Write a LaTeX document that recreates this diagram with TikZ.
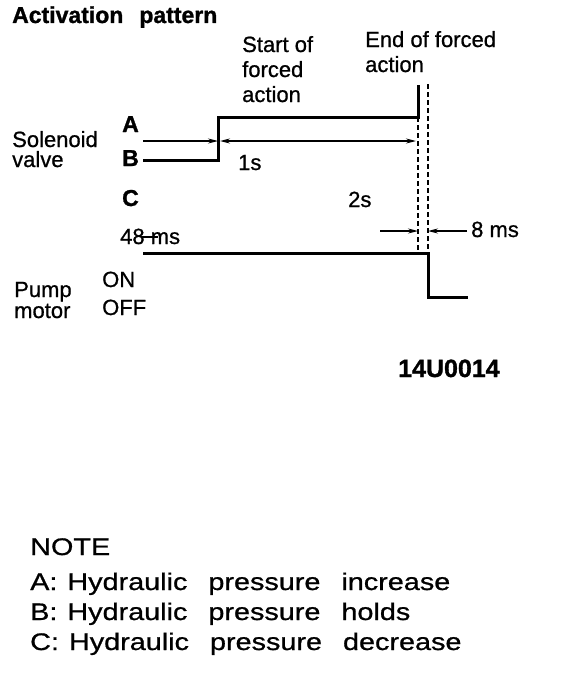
\documentclass[tikz,border=0pt]{standalone}
\usepackage{fontspec}
\setmainfont{Liberation Sans}
\newfontfamily\lblfam[FakeBold=0.8]{Liberation Sans}
\newfontfamily\headfam[FakeBold=1.2]{Liberation Sans Bold}
\newfontfamily\notefam[FakeStretch=1.2, FakeBold=0.8]{Liberation Sans}
\usetikzlibrary{arrows.meta, positioning}

\newcommand\lblfont{\lblfam\fontsize{22}{24}\selectfont}
\newcommand\headfont{\headfam\fontsize{23}{25}\selectfont\spaceskip=16pt}
\newcommand\notefont{\notefam\fontsize{24}{26}\selectfont\spaceskip=21pt}

\begin{document}
\begin{tikzpicture}[
    x=1pt,
    y=-1pt,
    lbl/.style={font=\lblfont, inner sep=0pt, anchor=base west},
    head/.style={font=\headfont, inner sep=0pt, anchor=base west},
    note/.style={font=\notefont, inner sep=0pt, anchor=base west},
    wave/.style={line width=3pt},
    thinline/.style={line width=1.3pt},
    guide/.style={line width=1.2pt, dash pattern=on 5pt off 3pt},
    tip/.tip={Stealth[length=10pt, width=5pt]},
    dim/.style={thinline, -tip},
]
    \useasboundingbox (0,0) rectangle (560,688);

    \node[head] (title)   at (12,23)   {Activation pattern};

    \node[lbl]  (start1)  at (242,52)  {Start of};
    \node[lbl]  (start2)  at (242,77)  {forced};
    \node[lbl]  (start3)  at (242,102) {action};
    \node[lbl]  (end1)    at (365,47)  {End of forced};
    \node[lbl]  (end2)    at (365,72)  {action};

    \node[lbl]  (sol)     at (12,147)  {Solenoid};
    \node[lbl]  (valve)   at (12,167)  {valve};
    \node[head] (lblA)    at (122,132) {A};
    \node[head] (lblB)    at (122,166) {B};
    \node[head] (lblC)    at (122,206) {C};
    \node[lbl]  (one)     at (238,170) {1s};
    \node[lbl]  (two)     at (348,207) {2s};
    \node[lbl]  (fortyeight) at (120,244) {48 ms};
    \node[lbl]  (eightms) at (471,237) {8 ms};

    \node[lbl]  (pump)    at (14,297)  {Pump};
    \node[lbl]  (motor)   at (14,318)  {motor};
    \node[lbl]  (on)      at (102,287) {ON};
    \node[lbl]  (off)     at (102,315) {OFF};

    \node[head, font=\headfam\fontsize{25}{27}\selectfont] (code) at (398,377) {14U0014};

    \node[note] (note)    at (30,555)  {NOTE};
    \node[note] (noteA)   at (30,590)  {A:\hspace{10pt}Hydraulic pressure increase};
    \node[note] (noteB)   at (30,620)  {B:\hspace{10pt}Hydraulic pressure holds};
    \node[note] (noteC)   at (30,650)  {C:\hspace{10pt}Hydraulic pressure decrease};

    \coordinate (aL)  at (143,141);
    \coordinate (aM)  at (218,141);
    \coordinate (aR)  at (416,141);
    \coordinate (eL)  at (380,231);
    \coordinate (e1)  at (418,231);
    \coordinate (e2)  at (428,231);
    \coordinate (eR)  at (467,231);

    \draw[wave] (143,160) -- (218,160) -- (218,117) -- (418,117) -- (418,85);
    \draw[wave] (143,253) -- (428,253) -- (428,297) -- (468,297);

    \draw[guide] (418,117) -- (418,253);
    \draw[guide] (428,84)  -- (428,253);

    \draw[dim] (aL) -- (aM);
    \draw[thinline, tip-tip] ([xshift=2pt]aM) -- (aR);
    \draw[dim] (eL) -- (e1);
    \draw[dim] (eR) -- (e2);
    \draw[thinline] (141,237) -- (158,237);
\end{tikzpicture}
\end{document}
